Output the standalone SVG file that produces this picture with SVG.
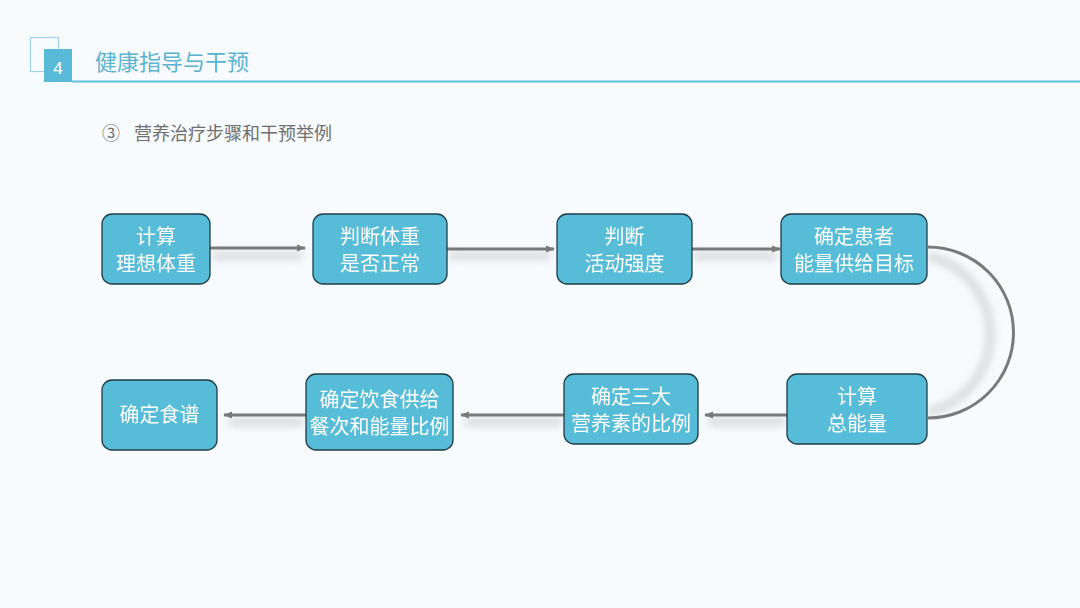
<svg xmlns="http://www.w3.org/2000/svg" width="1080" height="608" viewBox="0 0 1080 608">
<defs>
<style>
.node rect{fill:#56bcd7;stroke:#1e3c48;stroke-width:1.3}
.node text{fill:#ffffff;font-family:"Noto Sans CJK SC","Noto Sans",sans-serif;font-size:20px;text-anchor:middle}
.conn{fill:none;stroke:#7a7a7a;stroke-width:3}
.shadow{fill:none;stroke:#9a9a9a;stroke-width:6;opacity:0.45}
.sub{fill:#6f6f6f;font-family:"Noto Sans CJK SC",sans-serif;font-size:18px}
</style>
<marker id="ah" viewBox="0 0 10 10" refX="9" refY="5" markerWidth="3" markerHeight="3" orient="auto">
<path d="M0,1 L10,5 L0,9 z" fill="#7a7a7a"/>
</marker>
<filter id="blur" x="-20%" y="-50%" width="140%" height="200%">
<feGaussianBlur stdDeviation="4"/>
</filter>
</defs>
<rect width="1080" height="608" fill="#f7fbfd"/>
<g id="header">
<rect x="30.5" y="37.5" width="28" height="34" fill="none" stroke="#9fd3e2" stroke-width="1.2"/>
<rect x="44" y="49" width="28" height="33" fill="#58bad6"/>
<text x="58" y="74" fill="#ffffff" font-family="Liberation Sans,Arial,sans-serif" font-size="17" text-anchor="middle">4</text>
<line x1="72" y1="81.5" x2="1080" y2="81.5" stroke="#62bdd7" stroke-width="1.8"/>
<text x="95" y="70" fill="#5ab3d0" font-family="Noto Sans CJK SC,sans-serif" font-size="22">健康指导与干预</text>
</g>
<text class="sub" x="102" y="140">③</text>
<text class="sub" x="134" y="140">营养治疗步骤和干预举例</text>
<g id="connectors">
<g filter="url(#blur)">
<path class="shadow" d="M212,256 L302,256"/>
<path class="shadow" d="M449,256 L550,256"/>
<path class="shadow" d="M694,256 L776,256"/>
<path class="shadow" d="M928,256 A80,80 0 0 1 928,412"/>
<path class="shadow" d="M785,422 L708,422"/>
<path class="shadow" d="M562,422 L465,422"/>
<path class="shadow" d="M304,422 L228,422"/>
</g>
<path class="conn" d="M210,248 L305,248" marker-end="url(#ah)"/>
<path class="conn" d="M447,249 L554,249" marker-end="url(#ah)"/>
<path class="conn" d="M692,249 L780,249" marker-end="url(#ah)"/>
<path class="conn" d="M928,247 A85,85 0 0 1 928,418"/>
<path class="conn" d="M787,415 L705,415" marker-end="url(#ah)"/>
<path class="conn" d="M564,415 L461,415" marker-end="url(#ah)"/>
<path class="conn" d="M306,415 L224,415" marker-end="url(#ah)"/>
</g>
<g id="n1" class="node"><rect x="102" y="214" width="108" height="70" rx="10"/><text x="156" y="244">计算</text><text x="156" y="271">理想体重</text></g>
<g id="n2" class="node"><rect x="313" y="214" width="134" height="70" rx="10"/><text x="380" y="244">判断体重</text><text x="380" y="271">是否正常</text></g>
<g id="n3" class="node"><rect x="557" y="214" width="135" height="70" rx="10"/><text x="624.5" y="244">判断</text><text x="624.5" y="271">活动强度</text></g>
<g id="n4" class="node"><rect x="781" y="214" width="146" height="70" rx="10"/><text x="854" y="244">确定患者</text><text x="854" y="271">能量供给目标</text></g>
<g id="n5" class="node"><rect x="787" y="374" width="140" height="70" rx="10"/><text x="857" y="404">计算</text><text x="857" y="431">总能量</text></g>
<g id="n6" class="node"><rect x="564" y="374" width="134" height="70" rx="10"/><text x="631" y="404">确定三大</text><text x="631" y="431">营养素的比例</text></g>
<g id="n7" class="node"><rect x="306" y="374" width="147" height="76" rx="10"/><text x="379.5" y="407">确定饮食供给</text><text x="379.5" y="434">餐次和能量比例</text></g>
<g id="n8" class="node"><rect x="102" y="380" width="115" height="70" rx="10"/><text x="159.5" y="422">确定食谱</text></g>
</svg>
